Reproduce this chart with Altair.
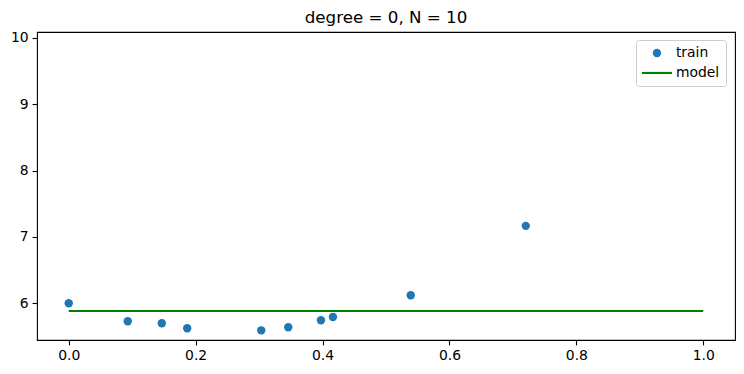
import altair as alt
import pandas as pd

train_x = [0.0, 0.093, 0.1467, 0.1867, 0.3034, 0.346, 0.3975, 0.4164, 0.539, 0.7203]
train_y = [6.0, 5.728, 5.698, 5.623, 5.592, 5.638, 5.743, 5.793, 6.12, 7.167]
model_x = [0.0, 1.0]
model_y = [5.884, 5.884]
x_ticks = [0.0, 0.2, 0.4, 0.6, 0.8, 1.0]
y_ticks = [6, 7, 8, 9, 10]
series = ["train", "model"]
colors = ["#1f77b4", "#008000"]

train = pd.DataFrame({"x": train_x, "y": train_y, "series": "train"})
model = pd.DataFrame({"x": model_x, "y": model_y})

FONT = "DejaVu Sans"
line_path = "M-3.59,-0.25H3.59V0.25H-3.59Z"

xs = alt.Scale(domain=[-0.05, 1.05], nice=False, zero=False)
ys = alt.Scale(domain=[5.446, 10.09], nice=False, zero=False)
xa = alt.Axis(values=x_ticks, format=".1f", title=None, grid=False, domain=False,
              tickSize=4.9, tickWidth=1.1, tickColor="black", labelPadding=4,
              labelColor="black", labelFontSize=13.9, labelFont=FONT)
ya = alt.Axis(values=y_ticks, format="d", title=None, grid=False, domain=False,
              tickSize=4.9, tickWidth=1.1, tickColor="black", labelPadding=4,
              labelColor="black", labelFontSize=13.9, labelFont=FONT)


def leg():
    return alt.Legend(title=None, orient="none", legendX=599, legendY=8,
                      labelFontSize=13.9, labelFont=FONT, labelColor="black",
                      symbolSize=70, symbolOffset=8, labelOffset=12,
                      padding=6, rowPadding=5,
                      fillColor="rgba(255,255,255,0.8)", strokeColor="#cccccc",
                      cornerRadius=3)


points = alt.Chart(train).mark_point(filled=True, size=70, opacity=1).encode(
    x=alt.X("x:Q", scale=xs, axis=xa),
    y=alt.Y("y:Q", scale=ys, axis=ya),
    color=alt.Color("series:N", scale=alt.Scale(domain=series, range=colors), legend=leg()),
    shape=alt.Shape("series:N", scale=alt.Scale(domain=series, range=["circle", line_path]),
                    legend=leg()),
)

line = alt.Chart(model).mark_line(color="#008000", strokeWidth=2.08).encode(
    x=alt.X("x:Q", scale=xs),
    y=alt.Y("y:Q", scale=ys),
)

chart = alt.layer(line, points).properties(
    width=698, height=308,
    title=alt.TitleParams("degree = 0, N = 10", font=FONT, fontSize=16.7, fontWeight="normal",
                          color="black", anchor="middle", orient="top", frame="group",
                          offset=4),
    autosize=alt.AutoSizeParams(type="none"),
    padding={"left": 29, "top": 24, "right": 1, "bottom": 26},
    background="white",
).configure_view(stroke="black", strokeWidth=1.1)

chart.save("out.html", embed_options={"renderer": "svg", "actions": False})
